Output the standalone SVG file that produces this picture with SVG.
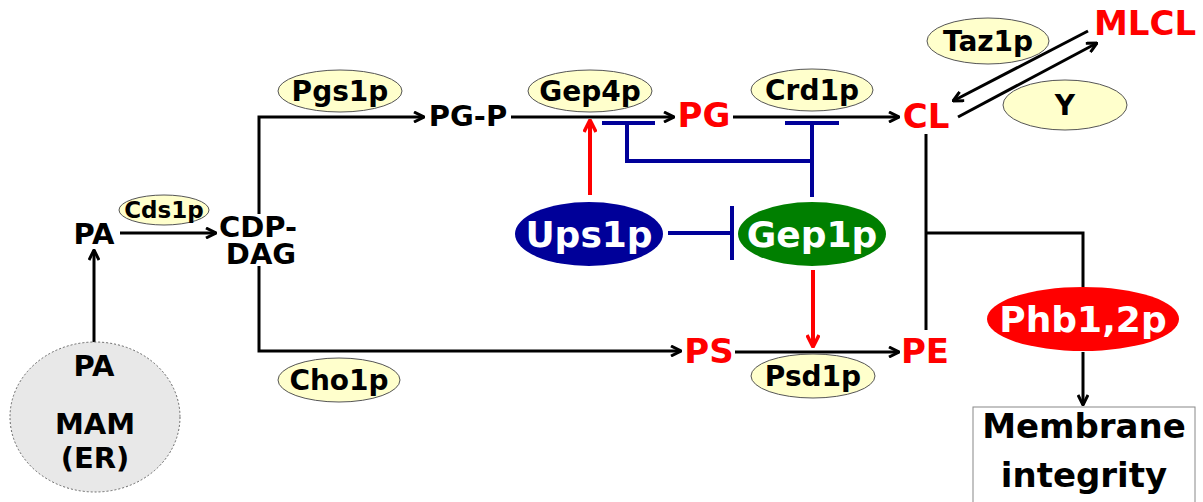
<svg xmlns="http://www.w3.org/2000/svg" width="1203" height="502" viewBox="0 0 1203 502">
<style>
text{font-family:"DejaVu Sans","Liberation Sans",sans-serif;font-weight:bold;text-anchor:middle}
.met{font-size:29px;fill:#000}
.red{font-size:34px;fill:#ff0000}
.enz{font-size:28px;fill:#000}
.ell{fill:#ffffcc;stroke:#555;stroke-width:1}
.blk{fill:none;stroke:#000;stroke-width:3}
.blu{fill:none;stroke:#000099;stroke-width:4}
.rd{fill:none;stroke:#ff0000;stroke-width:4}
.wt{fill:#fff;font-size:36px}
</style>
<defs>
<marker id="ab" viewBox="0 0 12 12" refX="11" refY="6" markerWidth="12" markerHeight="12" markerUnits="userSpaceOnUse" orient="auto">
<path d="M1,1 L11,6 L1,11" fill="none" stroke="#000" stroke-width="3"/>
</marker>
<marker id="ar" viewBox="0 0 14 14" refX="13" refY="7" markerWidth="14" markerHeight="14" markerUnits="userSpaceOnUse" orient="auto">
<path d="M1,1 L13,7 L1,13" fill="none" stroke="#ff0000" stroke-width="3.5"/>
</marker>
</defs>
<rect width="1203" height="502" fill="#fff"/>
<g id="connectors">
<line class="blk" x1="94" y1="343" x2="94" y2="250" marker-end="url(#ab)"/>
<line class="blk" x1="120" y1="233" x2="216" y2="233" marker-end="url(#ab)"/>
<polyline class="blk" points="259,214 259,117 424,117" marker-end="url(#ab)"/>
<polyline class="blk" points="259,266 259,351 681,351" marker-end="url(#ab)"/>
<line class="blk" x1="511" y1="117" x2="674" y2="117" marker-end="url(#ab)"/>
<line class="blk" x1="733" y1="117" x2="899" y2="117" marker-end="url(#ab)"/>
<line class="blk" x1="735" y1="352" x2="899" y2="352" marker-end="url(#ab)"/>
<line class="blk" x1="1088" y1="31" x2="953" y2="101" marker-end="url(#ab)"/>
<line class="blk" x1="958" y1="117" x2="1097" y2="43" marker-end="url(#ab)"/>
<line class="blk" x1="926" y1="134" x2="926" y2="330"/>
<polyline class="blk" points="926,233 1083,233 1083,287"/>
<line class="blk" x1="1083" y1="352" x2="1083" y2="405" marker-end="url(#ab)"/>
<line class="rd" x1="590" y1="195" x2="590" y2="120" marker-end="url(#ar)"/>
<line class="rd" x1="813" y1="270" x2="813" y2="347" marker-end="url(#ar)"/>
<line class="blu" x1="602" y1="123" x2="655" y2="123"/>
<polyline class="blu" points="627,123 627,161 812,161"/>
<line class="blu" x1="785" y1="123" x2="839" y2="123"/>
<line class="blu" x1="812" y1="123" x2="812" y2="197"/>
<line class="blu" x1="668" y1="233" x2="732" y2="233"/>
<line class="blu" x1="732" y1="206" x2="732" y2="260"/>
</g>
<g id="mam">
<ellipse cx="95" cy="417" rx="85" ry="75" fill="#e8e8e8" stroke="#666" stroke-width="1" stroke-dasharray="2,2"/>
<text class="met" x="94" y="376">PA</text>
<text class="met" x="95" y="434">MAM</text>
<text class="met" x="95" y="468">(ER)</text>
</g>
<g id="pa"><text class="met" x="94" y="244">PA</text></g>
<g id="cdpdag"><text class="met" x="258" y="237">CDP-</text><text class="met" x="261" y="264">DAG</text></g>
<g id="cds1p"><ellipse class="ell" cx="164" cy="210" rx="45" ry="15"/><text x="164" y="218" style="font-size:23px">Cds1p</text></g>
<g id="pgs1p"><ellipse class="ell" cx="340" cy="91" rx="62" ry="21"/><text class="enz" x="340" y="101">Pgs1p</text></g>
<g id="pgp"><text class="met" x="468" y="126">PG-P</text></g>
<g id="gep4p"><ellipse class="ell" cx="590" cy="91" rx="62" ry="21"/><text class="enz" x="590" y="101">Gep4p</text></g>
<g id="pg"><text class="red" x="704" y="127">PG</text></g>
<g id="crd1p"><ellipse class="ell" cx="812" cy="90" rx="61" ry="21"/><text class="enz" x="812" y="100">Crd1p</text></g>
<g id="cl"><text class="red" x="926" y="128">CL</text></g>
<g id="mlcl"><text class="red" x="1145" y="35">MLCL</text></g>
<g id="taz1p"><ellipse class="ell" cx="988" cy="41" rx="61" ry="23"/><text class="enz" x="988" y="51">Taz1p</text></g>
<g id="y"><ellipse class="ell" cx="1065" cy="105" rx="62" ry="25"/><text class="enz" x="1065" y="115">Y</text></g>
<g id="ups1p"><ellipse cx="589" cy="234" rx="74" ry="32" fill="#000099"/><text class="wt" x="589" y="247">Ups1p</text></g>
<g id="gep1p"><ellipse cx="812" cy="234" rx="74" ry="32" fill="#007f00"/><text class="wt" x="812" y="247">Gep1p</text></g>
<g id="cho1p"><ellipse class="ell" cx="339" cy="380" rx="61" ry="22"/><text class="enz" x="339" y="390">Cho1p</text></g>
<g id="ps"><text class="red" x="709" y="363">PS</text></g>
<g id="psd1p"><ellipse class="ell" cx="813" cy="376" rx="62" ry="22"/><text class="enz" x="813" y="386">Psd1p</text></g>
<g id="pe"><text class="red" x="925" y="363">PE</text></g>
<g id="phb"><ellipse cx="1083" cy="319" rx="96" ry="32" fill="#ff0000"/><text class="wt" x="1083" y="332">Phb1,2p</text></g>
<g id="membrane"><rect x="973" y="407" width="222" height="110" fill="#fff" stroke="#888" stroke-width="1"/><text x="1084" y="438" style="font-size:34px">Membrane</text><text x="1084" y="487" style="font-size:34px">integrity</text></g>
</svg>
